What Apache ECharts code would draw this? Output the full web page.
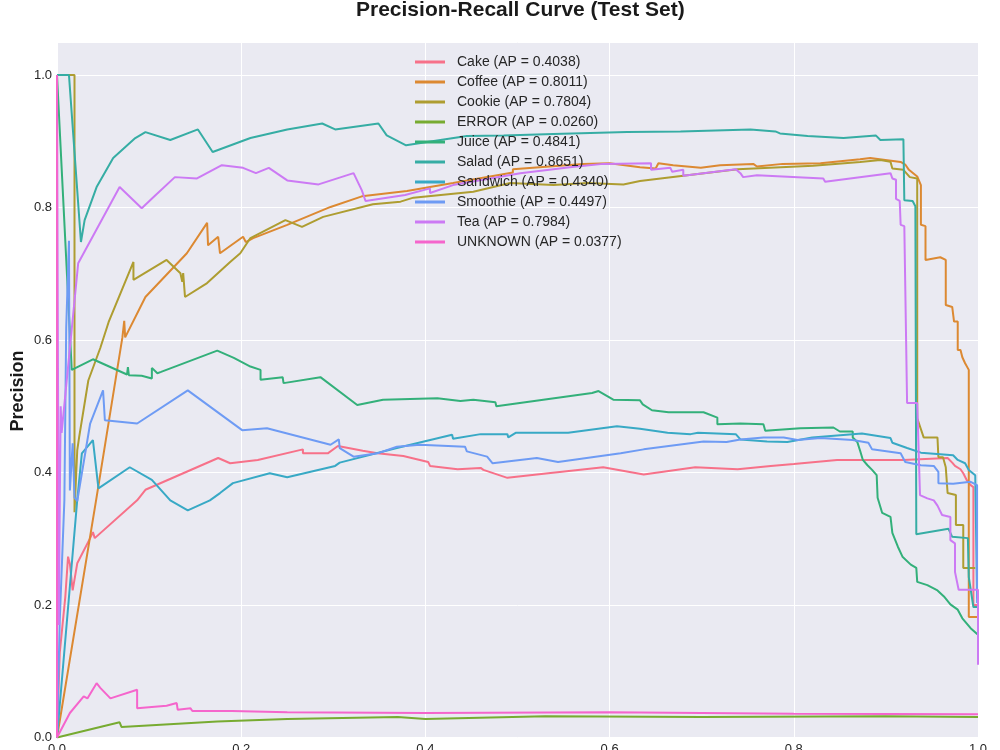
<!DOCTYPE html>
<html>
<head>
<meta charset="utf-8">
<title>Precision-Recall Curve</title>
<script src="https://cdn.jsdelivr.net/npm/echarts/dist/echarts.min.js"></script>
<style>
  html, body { margin: 0; padding: 0; background: #fff; }
  #main { width: 1000px; height: 750px; }
</style>
</head>
<body>
<div id="main"></div>
<script>
// class names and average precision shown in the legend
const classNames = ["Cake", "Coffee", "Cookie", "ERROR", "Juice", "Salad", "Sandwich", "Smoothie", "Tea", "UNKNOWN"];
const apScores = ["0.4038", "0.8011", "0.7804", "0.0260", "0.4841", "0.8651", "0.4340", "0.4497", "0.7984", "0.0377"];

// [recall, precision] points
const cakePR = [[0,1],[0,0],[0.003,0.128],[0.009,0.212],[0.012,0.273],[0.014,0.262],[0.017,0.222],[0.022,0.263],[0.036,0.301],[0.039,0.310],[0.041,0.301],[0.087,0.358],[0.096,0.374],[0.175,0.422],[0.188,0.414],[0.218,0.419],[0.220,0.416],[0.267,0.435],[0.267,0.429],[0.294,0.429],[0.305,0.440],[0.332,0.433],[0.348,0.429],[0.376,0.425],[0.403,0.416],[0.405,0.410],[0.435,0.405],[0.460,0.407],[0.463,0.404],[0.489,0.392],[0.521,0.397],[0.593,0.408],[0.637,0.397],[0.693,0.408],[0.695,0.405],[0.739,0.405],[0.775,0.410],[0.800,0.413],[0.847,0.419],[0.919,0.419],[0.967,0.422],[0.972,0.415],[0.975,0.410],[0.981,0.405],[0.984,0.399],[0.988,0.388],[0.992,0.381],[0.995,0.378],[0.995,0.200],[1.0,0.200]];
const coffeePR = [[0,1],[0,0],[0.043,0.363],[0.071,0.604],[0.073,0.629],[0.074,0.604],[0.096,0.665],[0.141,0.731],[0.163,0.777],[0.164,0.743],[0.175,0.756],[0.177,0.731],[0.202,0.756],[0.205,0.748],[0.213,0.754],[0.250,0.774],[0.297,0.801],[0.331,0.817],[0.380,0.825],[0.430,0.837],[0.495,0.853],[0.495,0.858],[0.571,0.866],[0.571,0.869],[0.600,0.867],[0.633,0.861],[0.650,0.859],[0.653,0.867],[0.669,0.864],[0.699,0.860],[0.720,0.864],[0.756,0.866],[0.760,0.862],[0.788,0.866],[0.829,0.867],[0.872,0.873],[0.883,0.875],[0.916,0.869],[0.921,0.865],[0.925,0.857],[0.934,0.847],[0.938,0.834],[0.938,0.774],[0.943,0.772],[0.943,0.721],[0.959,0.725],[0.965,0.721],[0.965,0.653],[0.972,0.650],[0.974,0.628],[0.978,0.628],[0.978,0.585],[0.981,0.585],[0.983,0.574],[0.986,0.565],[0.990,0.555],[0.990,0.182],[1.0,0.182]];
const cookiePR = [[0,1],[0.019,1.0],[0.019,0.340],[0.022,0.434],[0.024,0.453],[0.034,0.539],[0.047,0.588],[0.056,0.627],[0.083,0.718],[0.083,0.691],[0.119,0.721],[0.134,0.701],[0.136,0.688],[0.137,0.701],[0.139,0.665],[0.163,0.686],[0.188,0.718],[0.199,0.731],[0.210,0.754],[0.248,0.781],[0.266,0.771],[0.289,0.786],[0.343,0.805],[0.373,0.809],[0.387,0.815],[0.452,0.824],[0.492,0.837],[0.539,0.834],[0.576,0.837],[0.615,0.835],[0.633,0.840],[0.680,0.848],[0.739,0.858],[0.821,0.863],[0.872,0.869],[0.894,0.872],[0.905,0.869],[0.907,0.859],[0.919,0.857],[0.926,0.846],[0.934,0.844],[0.934,0.482],[0.941,0.453],[0.956,0.453],[0.957,0.423],[0.962,0.423],[0.965,0.408],[0.967,0.369],[0.976,0.366],[0.976,0.321],[0.984,0.321],[0.984,0.256],[0.997,0.256]];
const errorPR = [[0,1],[0,0],[0.068,0.023],[0.070,0.016],[0.174,0.024],[0.250,0.028],[0.370,0.031],[0.400,0.028],[0.530,0.032],[0.700,0.031],[0.900,0.032],[1.0,0.031]];
const juicePR = [[0,1],[0.016,0.555],[0.039,0.571],[0.076,0.548],[0.077,0.559],[0.078,0.547],[0.092,0.546],[0.103,0.542],[0.103,0.558],[0.109,0.550],[0.113,0.552],[0.174,0.584],[0.192,0.573],[0.210,0.560],[0.221,0.555],[0.221,0.540],[0.245,0.544],[0.246,0.535],[0.286,0.544],[0.326,0.502],[0.354,0.510],[0.413,0.512],[0.438,0.508],[0.452,0.510],[0.476,0.506],[0.477,0.500],[0.581,0.520],[0.588,0.523],[0.604,0.510],[0.633,0.509],[0.636,0.503],[0.646,0.494],[0.664,0.491],[0.702,0.491],[0.717,0.483],[0.717,0.473],[0.742,0.474],[0.767,0.473],[0.769,0.463],[0.807,0.467],[0.843,0.468],[0.850,0.462],[0.864,0.462],[0.864,0.453],[0.869,0.446],[0.872,0.433],[0.875,0.419],[0.880,0.411],[0.885,0.404],[0.890,0.396],[0.891,0.362],[0.896,0.339],[0.905,0.333],[0.907,0.309],[0.913,0.288],[0.918,0.273],[0.927,0.261],[0.933,0.256],[0.934,0.235],[0.945,0.230],[0.956,0.222],[0.963,0.213],[0.970,0.201],[0.978,0.193],[0.983,0.180],[0.992,0.165],[1.0,0.155]];
const saladPR = [[0,1],[0.013,1.0],[0.026,0.748],[0.030,0.781],[0.043,0.831],[0.061,0.875],[0.085,0.905],[0.096,0.914],[0.123,0.902],[0.153,0.918],[0.169,0.884],[0.210,0.905],[0.250,0.918],[0.288,0.927],[0.302,0.918],[0.349,0.927],[0.358,0.909],[0.379,0.894],[0.402,0.899],[0.445,0.908],[0.485,0.909],[0.539,0.911],[0.619,0.914],[0.677,0.915],[0.753,0.918],[0.780,0.915],[0.785,0.912],[0.815,0.908],[0.854,0.905],[0.889,0.909],[0.894,0.902],[0.919,0.903],[0.920,0.811],[0.929,0.810],[0.932,0.802],[0.933,0.307],[0.968,0.315],[0.972,0.303],[0.989,0.301],[0.990,0.242],[0.995,0.197],[1.0,0.197]];
const sandwichPR = [[0,1],[0,0],[0.022,0.359],[0.027,0.429],[0.039,0.449],[0.045,0.376],[0.079,0.408],[0.103,0.389],[0.123,0.358],[0.142,0.343],[0.166,0.358],[0.177,0.369],[0.191,0.384],[0.231,0.399],[0.250,0.393],[0.302,0.410],[0.307,0.415],[0.369,0.437],[0.429,0.457],[0.430,0.451],[0.460,0.458],[0.489,0.458],[0.490,0.453],[0.498,0.460],[0.555,0.460],[0.608,0.470],[0.633,0.466],[0.663,0.460],[0.688,0.458],[0.696,0.460],[0.698,0.457],[0.737,0.458],[0.742,0.450],[0.771,0.447],[0.793,0.446],[0.820,0.453],[0.874,0.459],[0.905,0.452],[0.907,0.445],[0.923,0.437],[0.938,0.430],[0.973,0.426],[0.978,0.419],[0.986,0.414],[0.990,0.404],[0.997,0.396],[0.999,0.210]];
const smoothiePR = [[0,1],[0,0],[0.003,0.177],[0.008,0.358],[0.010,0.619],[0.013,0.750],[0.014,0.373],[0.017,0.444],[0.019,0.362],[0.022,0.357],[0.036,0.474],[0.050,0.524],[0.052,0.479],[0.087,0.474],[0.142,0.524],[0.201,0.464],[0.228,0.467],[0.297,0.442],[0.306,0.450],[0.307,0.437],[0.322,0.424],[0.348,0.429],[0.369,0.439],[0.394,0.442],[0.443,0.439],[0.445,0.432],[0.467,0.424],[0.473,0.414],[0.521,0.422],[0.522,0.419],[0.544,0.416],[0.612,0.429],[0.637,0.435],[0.702,0.447],[0.727,0.446],[0.742,0.450],[0.767,0.453],[0.789,0.453],[0.804,0.449],[0.829,0.452],[0.864,0.449],[0.881,0.445],[0.885,0.435],[0.916,0.429],[0.921,0.416],[0.938,0.411],[0.952,0.410],[0.957,0.401],[0.957,0.384],[0.973,0.383],[0.992,0.386],[0.999,0.381],[0.999,0.203]];
const teaPR = [[0,1],[0.002,0.170],[0.003,0.350],[0.004,0.500],[0.005,0.460],[0.023,0.716],[0.068,0.831],[0.092,0.799],[0.104,0.815],[0.128,0.846],[0.152,0.844],[0.179,0.864],[0.202,0.860],[0.216,0.852],[0.230,0.860],[0.250,0.841],[0.284,0.835],[0.322,0.852],[0.331,0.826],[0.335,0.810],[0.378,0.819],[0.405,0.829],[0.405,0.822],[0.430,0.834],[0.503,0.852],[0.557,0.861],[0.593,0.866],[0.645,0.867],[0.645,0.857],[0.666,0.860],[0.668,0.854],[0.680,0.857],[0.680,0.848],[0.737,0.858],[0.742,0.852],[0.745,0.846],[0.760,0.849],[0.832,0.844],[0.834,0.839],[0.905,0.852],[0.907,0.844],[0.911,0.842],[0.911,0.813],[0.915,0.810],[0.916,0.774],[0.920,0.772],[0.923,0.505],[0.934,0.505],[0.937,0.366],[0.945,0.361],[0.952,0.358],[0.956,0.350],[0.961,0.336],[0.970,0.333],[0.970,0.298],[0.975,0.293],[0.975,0.250],[0.979,0.223],[1.0,0.223],[1.0,0.110]];
const unknownPR = [[0,1],[0,0],[0.014,0.037],[0.029,0.062],[0.033,0.059],[0.043,0.082],[0.047,0.075],[0.058,0.059],[0.087,0.072],[0.087,0.044],[0.119,0.048],[0.130,0.052],[0.131,0.042],[0.145,0.044],[0.147,0.040],[0.159,0.040],[0.161,0.037],[0.190,0.040],[0.192,0.037],[0.250,0.038],[0.400,0.037],[0.600,0.038],[0.800,0.036],[1.0,0.035]];

const curves = [cakePR, coffeePR, cookiePR, errorPR, juicePR, saladPR, sandwichPR, smoothiePR, teaPR, unknownPR];

// seaborn husl palette, 10 colours
const palette = ["#f77189", "#dc8932", "#ae9d31", "#77ab31", "#33b07a", "#36ada4", "#38a9c5", "#6e9bf4", "#cc7af4", "#f565cc"];

const font = "'Liberation Sans', Arial, Helvetica, sans-serif";

const myChart = echarts.init(document.getElementById("main"));

const series = classNames.map((name, i) => ({
  name: name + " (AP = " + apScores[i] + ")",
  type: "line",
  data: curves[i],
  showSymbol: false,
  symbol: "none",
  lineStyle: { width: 2, color: palette[i] },
  itemStyle: { color: palette[i] },
  emphasis: { disabled: true },
}));

const option = {
  animation: false,
  color: palette,
  grid: {
    left: 57,
    right: 22,
    top: 42,
    bottom: 12.5,
    containLabel: false,
    outerBoundsMode: "none",
    show: true,
    backgroundColor: "#eaeaf2",
    borderWidth: 0,
  },
  legend: {
    orient: "vertical",
    left: 415,
    top: 55,
    padding: 0,
    itemGap: 6,
    itemWidth: 30,
    itemHeight: 3,
    icon: "rect",
    textStyle: {
      fontFamily: font,
      fontSize: 14,
      lineHeight: 14,
      color: "#262626",
      padding: [0, 0, 0, 7],
    },
    data: series.map((s) => s.name),
  },
  xAxis: {
    type: "value",
    min: 0,
    max: 1,
    interval: 0.2,
    axisLine: { show: false },
    axisTick: { show: false },
    axisLabel: {
      margin: 5,
      fontFamily: font,
      fontSize: 13,
      color: "#262626",
      formatter: (v) => v.toFixed(1),
    },
    splitLine: { lineStyle: { color: "#ffffff", width: 1 } },
  },
  yAxis: {
    type: "value",
    min: 0,
    max: 1.05,
    interval: 0.2,
    axisLine: { show: false },
    axisTick: { show: false },
    axisLabel: {
      margin: 5,
      showMaxLabel: false,
      fontFamily: font,
      fontSize: 13,
      color: "#262626",
      formatter: (v) => (Math.abs(v * 5 - Math.round(v * 5)) < 1e-6 ? v.toFixed(1) : ""),
    },
    splitLine: { lineStyle: { color: "#ffffff", width: 1 } },
  },
  graphic: [
    {
      type: "text",
      left: 521 - 165,
      top: 0,
      style: {
        text: "Precision-Recall Curve (Test Set)",
        font: "bold 21px " + font,
        fill: "#1a1a1a",
      },
    },
    {
      type: "text",
      x: 18,
      y: 391,
      rotation: Math.PI / 2,
      style: {
        text: "Precision",
        font: "bold 18px " + font,
        fill: "#1a1a1a",
        align: "center",
        verticalAlign: "middle",
      },
    },
  ],
  series: series,
};

option && myChart.setOption(option);
</script>
</body>
</html>
